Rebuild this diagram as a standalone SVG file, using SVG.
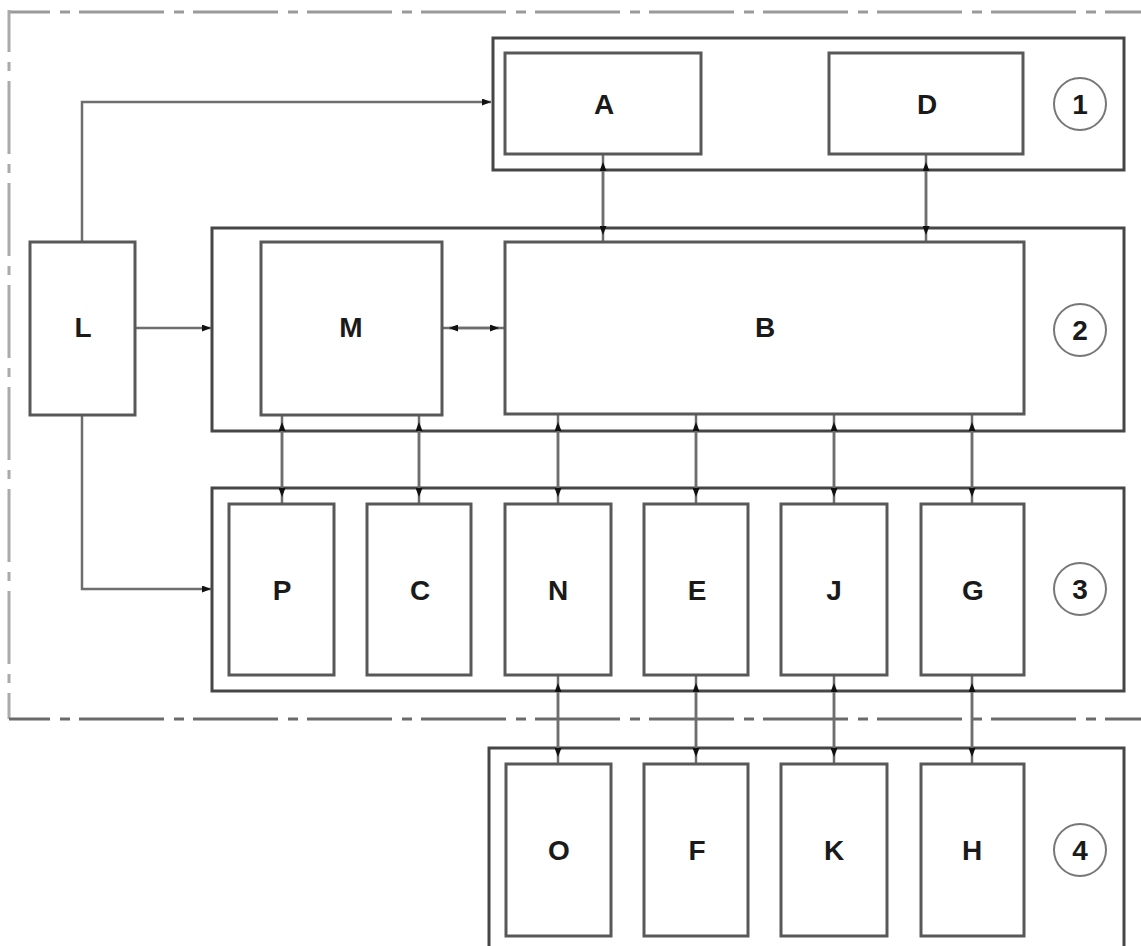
<svg xmlns="http://www.w3.org/2000/svg" width="1141" height="946" viewBox="0 0 1141 946">
<style>
.frame{fill:none;stroke:#9a9a9a;stroke-width:3}
.outer{fill:none;stroke:#464646;stroke-width:3}
.inner{fill:#fff;stroke:#585858;stroke-width:3}
.conn{fill:none;stroke:#6e6e6e;stroke-width:2.5}
.tag{fill:none;stroke:#777;stroke-width:2}
text{font-family:"Liberation Sans",Arial,sans-serif;font-size:28px;font-weight:bold;fill:#1a1a1a;text-anchor:middle}
</style>
<defs>
<marker id="ab" viewBox="0 0 9 7" refX="0" refY="3.5" markerWidth="9" markerHeight="7" markerUnits="userSpaceOnUse" orient="auto-start-reverse"><path d="M0,0 L9,3.5 L0,7 z" fill="#111"/></marker>
<marker id="at" viewBox="0 0 9 7" refX="9" refY="3.5" markerWidth="9" markerHeight="7" markerUnits="userSpaceOnUse" orient="auto-start-reverse"><path d="M0,0 L9,3.5 L0,7 z" fill="#111"/></marker>
</defs>
<g id="frame">
<line class="frame" x1="9" y1="12" x2="1141" y2="12" stroke-dasharray="85 10 10 9" stroke-dashoffset="44"/>
<line class="frame" x1="9" y1="10" x2="9" y2="719" style="stroke:#aaa" stroke-dasharray="73 10 9 10" stroke-dashoffset="31"/>
<line class="frame" x1="9" y1="719" x2="1141" y2="719" style="stroke:#6a6a6a" stroke-dasharray="85 10 10 9" stroke-dashoffset="44"/>
</g>
<g id="group1"><rect class="outer" x="493" y="38" width="631" height="132"/><circle class="tag" cx="1080" cy="104" r="26"/><text x="1080" y="114">1</text></g>
<g id="group2"><rect class="outer" x="212" y="228" width="912" height="203"/><circle class="tag" cx="1080" cy="330" r="26"/><text x="1080" y="340">2</text></g>
<g id="group3"><rect class="outer" x="212" y="488" width="912" height="203"/><circle class="tag" cx="1080" cy="589" r="26"/><text x="1080" y="599">3</text></g>
<g id="group4"><path class="outer" d="M489,960 V748 H1124 V960"/><circle class="tag" cx="1080" cy="850" r="26"/><text x="1080" y="860">4</text></g>
<g id="connectors">
<path class="conn" d="M82,242 V102 H491" marker-end="url(#at)"/>
<path class="conn" d="M136,328 H211" marker-end="url(#at)"/>
<path class="conn" d="M82,415 V589 H211" marker-end="url(#at)"/>
<path class="conn" d="M442,328 H505"/><line class="conn" x1="449" y1="328" x2="499" y2="328" marker-start="url(#at)" marker-end="url(#at)"/>
<path class="conn" d="M603,154 V242"/><line class="conn" x1="603" y1="171" x2="603" y2="226" marker-start="url(#ab)" marker-end="url(#ab)"/>
<path class="conn" d="M926,154 V242"/><line class="conn" x1="926" y1="171" x2="926" y2="226" marker-start="url(#ab)" marker-end="url(#ab)"/>
<path class="conn" d="M282,415 V504"/><line class="conn" x1="282" y1="431" x2="282" y2="488" marker-start="url(#ab)" marker-end="url(#ab)"/>
<path class="conn" d="M419,415 V504"/><line class="conn" x1="419" y1="431" x2="419" y2="488" marker-start="url(#ab)" marker-end="url(#ab)"/>
<path class="conn" d="M558,414 V504"/><line class="conn" x1="558" y1="431" x2="558" y2="488" marker-start="url(#ab)" marker-end="url(#ab)"/>
<path class="conn" d="M696,414 V504"/><line class="conn" x1="696" y1="431" x2="696" y2="488" marker-start="url(#ab)" marker-end="url(#ab)"/>
<path class="conn" d="M834,414 V504"/><line class="conn" x1="834" y1="431" x2="834" y2="488" marker-start="url(#ab)" marker-end="url(#ab)"/>
<path class="conn" d="M972,414 V504"/><line class="conn" x1="972" y1="431" x2="972" y2="488" marker-start="url(#ab)" marker-end="url(#ab)"/>
<path class="conn" d="M558,675 V764"/><line class="conn" x1="558" y1="692" x2="558" y2="748" marker-start="url(#ab)" marker-end="url(#ab)"/>
<path class="conn" d="M696,675 V764"/><line class="conn" x1="696" y1="692" x2="696" y2="748" marker-start="url(#ab)" marker-end="url(#ab)"/>
<path class="conn" d="M834,675 V764"/><line class="conn" x1="834" y1="692" x2="834" y2="748" marker-start="url(#ab)" marker-end="url(#ab)"/>
<path class="conn" d="M972,675 V764"/><line class="conn" x1="972" y1="692" x2="972" y2="748" marker-start="url(#ab)" marker-end="url(#ab)"/>
</g>
<g id="A"><rect class="inner" x="505" y="53" width="196" height="101"/><text x="604" y="114">A</text></g>
<g id="D"><rect class="inner" x="829" y="53" width="194" height="101"/><text x="927" y="114">D</text></g>
<g id="L"><rect class="inner" x="30" y="242" width="105" height="173"/><text x="83" y="337">L</text></g>
<g id="M"><rect class="inner" x="261" y="242" width="181" height="173"/><text x="351" y="337">M</text></g>
<g id="B"><rect class="inner" x="505" y="242" width="519" height="172"/><text x="765" y="337">B</text></g>
<g id="P"><rect class="inner" x="229" y="504" width="105" height="171"/><text x="282" y="600">P</text></g>
<g id="C"><rect class="inner" x="367" y="504" width="104" height="171"/><text x="420" y="600">C</text></g>
<g id="N"><rect class="inner" x="505" y="504" width="106" height="171"/><text x="558" y="600">N</text></g>
<g id="E"><rect class="inner" x="644" y="504" width="104" height="171"/><text x="697" y="600">E</text></g>
<g id="J"><rect class="inner" x="781" y="504" width="106" height="171"/><text x="834" y="600">J</text></g>
<g id="G"><rect class="inner" x="921" y="504" width="103" height="171"/><text x="973" y="600">G</text></g>
<g id="O"><rect class="inner" x="506" y="764" width="105" height="172"/><text x="559" y="860">O</text></g>
<g id="F"><rect class="inner" x="644" y="764" width="104" height="172"/><text x="697" y="860">F</text></g>
<g id="K"><rect class="inner" x="781" y="764" width="106" height="172"/><text x="834" y="860">K</text></g>
<g id="H"><rect class="inner" x="921" y="764" width="103" height="172"/><text x="972" y="860">H</text></g>
</svg>
